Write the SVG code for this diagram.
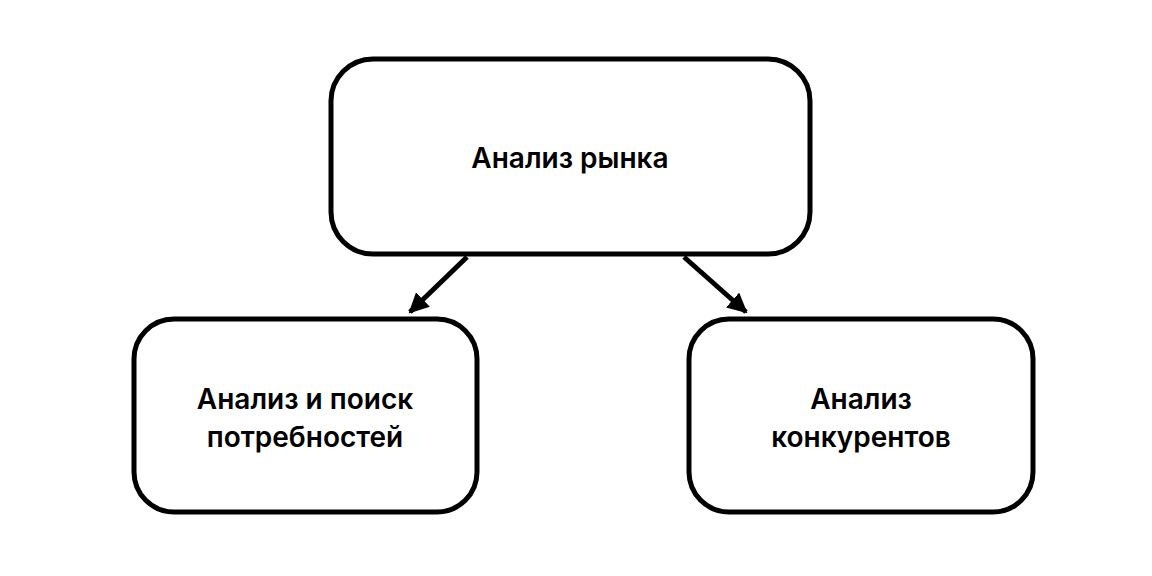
<svg xmlns="http://www.w3.org/2000/svg" width="1152" height="576" viewBox="0 0 1152 576">
<style>
.box{fill:#fff;stroke:#000;stroke-width:5}
.t{font-family:"Inter","Liberation Sans",sans-serif;font-weight:600;font-size:28px;text-anchor:middle;fill:#000}
.c{stroke:#000;stroke-width:5;fill:none}
</style>
<defs>
<marker id="b" viewBox="0 0 10 10" refX="9" refY="5" markerWidth="20" markerHeight="20" markerUnits="userSpaceOnUse" orient="auto"><path d="M0,0 L10,5 L0,10 z" fill="#000"/></marker></defs>
<rect width="1152" height="576" fill="#fff"/>
<g id="root"><rect class="box" x="331" y="59" width="479" height="195" rx="42"/><text class="t" x="570" y="168">Анализ рынка</text></g>
<g id="needs"><rect class="box" x="134" y="319" width="343" height="193" rx="40"/><text class="t" x="305" y="409">Анализ и поиск</text><text class="t" x="305" y="447">потребностей</text></g>
<g id="comp"><rect class="box" x="689" y="319" width="344" height="193" rx="40"/><text class="t" x="861" y="409">Анализ</text><text class="t" x="861" y="447">конкурентов</text></g>
<g id="connectors">
<line class="c" x1="467" y1="257" x2="410" y2="312" marker-end="url(#b)"/>
<line class="c" x1="684" y1="257" x2="746" y2="312" marker-end="url(#b)"/>
</g>
</svg>
